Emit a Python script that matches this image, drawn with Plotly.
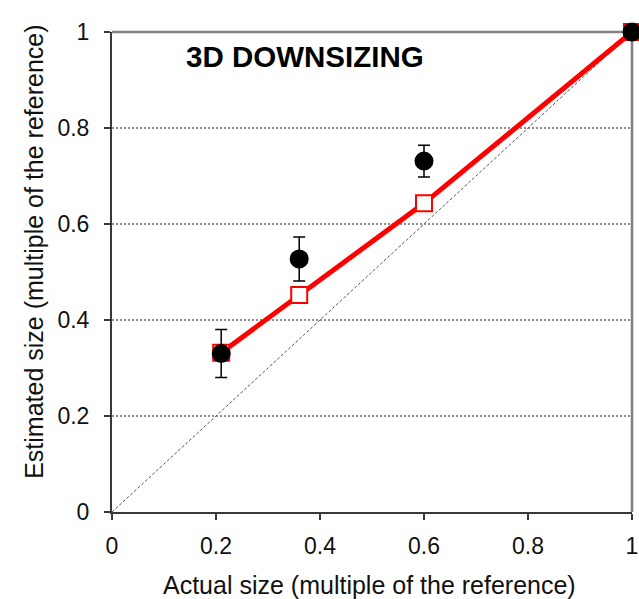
import plotly.graph_objects as go

# Data
actual_size = [0.21, 0.36, 0.60, 1.0]
estimated_mean = [0.330, 0.527, 0.731, 1.0]
estimated_err = [0.050, 0.046, 0.033, 0.0]
model_size = [0.332, 0.452, 0.643, 1.0]
x_ticks = [0, 0.2, 0.4, 0.6, 0.8, 1]
y_ticks = [0, 0.2, 0.4, 0.6, 0.8, 1]
x_tick_labels = ["0", "0.2", "0.4", "0.6", "0.8", "1"]
y_tick_labels = ["0", "0.2", "0.4", "0.6", "0.8", "1"]
identity = [0, 1]

FONT = "Liberation Sans, Arial, sans-serif"
AX = "#3a3a3a"

fig = go.Figure()

# identity diagonal
fig.add_trace(go.Scatter(
    x=identity, y=identity, mode="lines",
    line=dict(color="#555555", width=1, dash="3px,2px"),
    hoverinfo="skip", cliponaxis=False))

# model (red line + open squares)
fig.add_trace(go.Scatter(
    x=actual_size, y=model_size, mode="lines+markers",
    line=dict(color="#ff0000", width=5),
    marker=dict(symbol="square", size=16, color="white",
                line=dict(color="#ff0000", width=2)),
    cliponaxis=False))

# estimates (black circles + error bars)
fig.add_trace(go.Scatter(
    x=actual_size, y=estimated_mean, mode="markers",
    marker=dict(symbol="circle", size=19, color="black"),
    error_y=dict(type="data", array=estimated_err, visible=True,
                 color="black", thickness=1.5, width=6),
    cliponaxis=False))

fig.update_layout(
    width=639, height=599,
    margin=dict(l=112, r=7, t=32, b=87, autoexpand=False),
    plot_bgcolor="white", paper_bgcolor="white",
    showlegend=False,
    font=dict(family=FONT, color="#111111"),
    xaxis=dict(range=[0, 1], tickvals=x_ticks, ticktext=x_tick_labels,
               showgrid=False, zeroline=False, automargin=False,
               showline=True, linecolor=AX, linewidth=2,
               ticks="outside", ticklen=6, tickwidth=1.5, tickcolor=AX,
               tickfont=dict(size=23, family=FONT, color="#111111"),
               ticklabelstandoff=6),
    yaxis=dict(range=[0, 1], tickvals=y_ticks, ticktext=y_tick_labels,
               showgrid=False, zeroline=False, automargin=False,
               showline=True, linecolor=AX, linewidth=2,
               ticks="outside", ticklen=6, tickwidth=1.5, tickcolor=AX,
               tickfont=dict(size=23, family=FONT, color="#111111"),
               ticklabelstandoff=10),
)

# dashed horizontal gridlines
for v in y_ticks[1:-1]:
    fig.add_shape(type="line", xref="paper", yref="y", x0=0, x1=1, y0=v, y1=v,
                  line=dict(color="#222222", width=1, dash="2px,2px"), layer="below")

# gray top and right borders
fig.add_shape(type="line", xref="paper", yref="paper", x0=0, x1=1, y0=1, y1=1,
              line=dict(color="#808080", width=2.5), layer="below")
fig.add_shape(type="line", xref="paper", yref="paper", x0=1, x1=1, y0=0, y1=1,
              line=dict(color="#808080", width=2.5), layer="below")

fig.add_annotation(text="<b>3D DOWNSIZING</b>", x=0.372, y=0.95, xref="paper", yref="paper",
                   showarrow=False, xanchor="center", yanchor="middle",
                   font=dict(size=29.5, family=FONT, color="black"))
fig.add_annotation(text="Actual size (multiple of the reference)", x=0.496, y=-0.152,
                   xref="paper", yref="paper", showarrow=False, xanchor="center", yanchor="middle",
                   font=dict(size=25, family=FONT, color="#111111"))
fig.add_annotation(text="Estimated size (multiple of the reference)", x=-0.15, y=0.542,
                   xref="paper", yref="paper", showarrow=False, xanchor="center", yanchor="middle",
                   textangle=-90,
                   font=dict(size=25, family=FONT, color="#111111"))

# remove the page's default body margin so the 639x599 figure fills the window exactly
fig.write_html(
    "out.html",
    config={"displayModeBar": False},
    post_script="document.body.style.margin='0';document.body.style.padding='0';"
                "document.documentElement.style.overflow='hidden';",
)
